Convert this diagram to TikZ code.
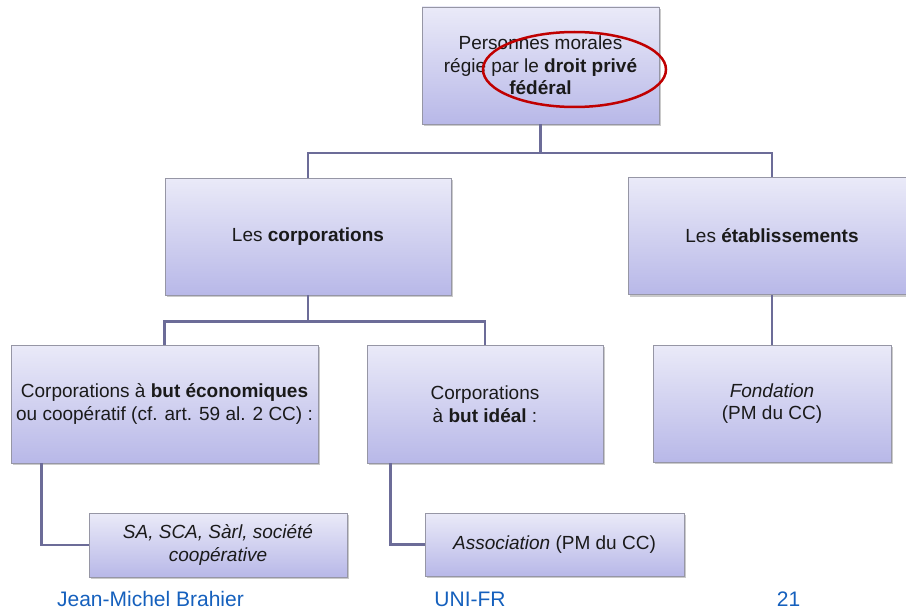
\documentclass[tikz,border=0pt]{standalone}
\usepackage{fontspec}
\setmainfont{Liberation Sans}
\usetikzlibrary{shadows,shapes.geometric}

\definecolor{boxtop}{RGB}{234,234,248}
\definecolor{boxbot}{RGB}{184,184,232}
\definecolor{boxline}{RGB}{150,150,165}
\definecolor{linkcol}{RGB}{108,108,152}
\definecolor{ringred}{RGB}{192,0,0}
\definecolor{footblue}{RGB}{21,96,189}
\definecolor{inktext}{RGB}{26,26,26}

\tikzset{
  orgbox/.style={draw=boxline, line width=0.6pt,
    top color=boxtop, bottom color=boxbot,
    align=center, inner sep=0pt, text=inktext,
    font=\fontsize{19}{22.5}\selectfont,
    drop shadow={shadow xshift=1.5pt, shadow yshift=-2pt, opacity=.35, fill=black!60}},
  link/.style={draw=linkcol, line width=2.6pt},
  foot/.style={text=footblue, font=\fontsize{21}{24}\selectfont, inner sep=0pt, anchor=base},
  ring/.style={draw=ringred, line width=2.5pt, ellipse, inner sep=0pt}
}

\begin{document}
\begin{tikzpicture}[x=1pt,y=-1pt]
  \useasboundingbox (0,0) rectangle (906,610);

  % boxes
  \node[orgbox, minimum width=237pt, minimum height=117pt] (top) at (540.5,65.5)
    {Personnes morales\\régie par le \textbf{droit privé}\\\textbf{fédéral}};
  \node[orgbox, minimum width=286pt, minimum height=117pt] (corp) at (308,236.5)
    {Les \textbf{corporations}};
  \node[orgbox, minimum width=288pt, minimum height=117pt] (etab) at (772,236)
    {Les \textbf{établissements}};
  \node[orgbox, minimum width=307pt, minimum height=118pt] (eco) at (164.5,404)
    {Corporations à \textbf{but économiques}\\ou coopératif (cf. art. 59 al. 2 CC) :};
  \node[orgbox, minimum width=236pt, minimum height=118pt] (ideal) at (485,404)
    {Corporations\\à \textbf{but idéal} :};
  \node[orgbox, minimum width=238pt, minimum height=117pt] (fond) at (772,403.5)
    {\textit{Fondation}\\(PM du CC)};
  \node[orgbox, minimum width=258pt, minimum height=64pt] (sa) at (218,545)
    {\textit{SA, SCA, Sàrl, société}\\\textit{coopérative}};
  \node[orgbox, minimum width=259pt, minimum height=63pt] (assoc) at (554.5,544.5)
    {\textit{Association} (PM du CC)};

  % connectors
  \draw[link] (top.south) -- ++(0,28.5) -| (corp.north);
  \draw[link] (top.south) -- ++(0,28.5) -| (etab.north);
  \draw[link] (corp.south) -- ++(0,26) -| (eco.north);
  \draw[link] (corp.south) -- ++(0,26) -| (ideal.north);
  \draw[link] (etab.south) -- (fond.north);
  \draw[link] ([xshift=31pt]eco.south west) |- (sa.west);
  \draw[link] ([xshift=24pt]ideal.south west) |- (assoc.west);

  % highlight
  \node[ring, minimum width=183pt, minimum height=75pt] (hl) at (574.5,69.5) {};

  % footer
  \node[foot] (author) at (150.5,606) {Jean-Michel Brahier};
  \node[foot] (uni) at (470,606) {UNI-FR};
  \node[foot] (page) at (788.5,606) {21};
\end{tikzpicture}
\end{document}
